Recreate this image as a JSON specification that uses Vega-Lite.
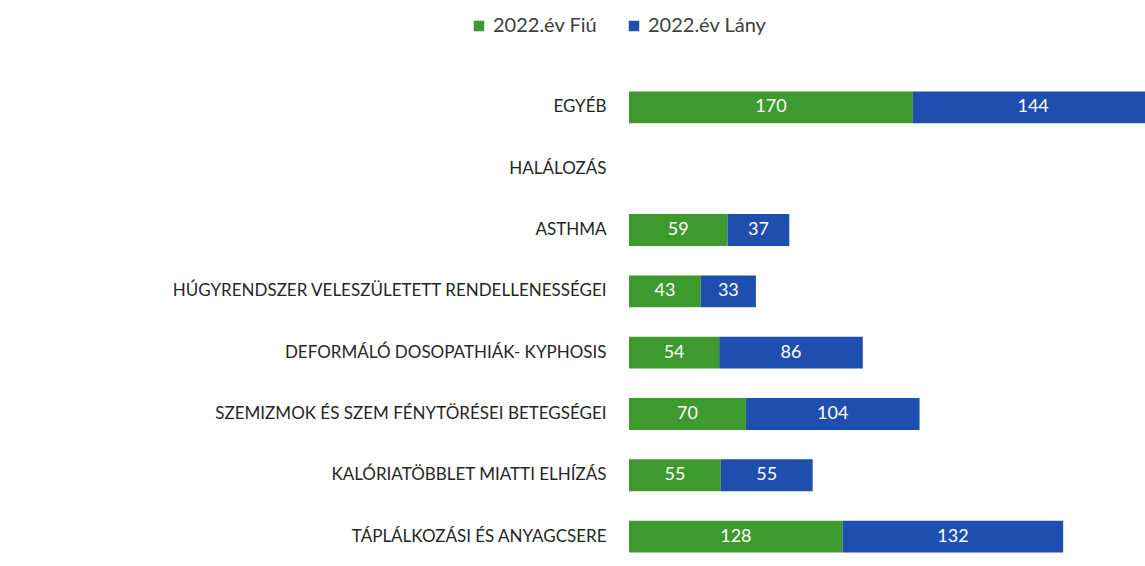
{
  "$schema": "https://vega.github.io/schema/vega-lite/v6.json",
  "width": 516,
  "height": 490,
  "autosize": {"type": "none"},
  "padding": {"left": 629, "top": 77, "right": 0, "bottom": 0},
  "background": "white",
  "config": {"view": {"stroke": null}, "font": "Lato"},
  "data": {
    "values": [
      {"cat": "EGYÉB", "nem": "2022.év Fiú", "o": 1, "v": 170},
      {"cat": "EGYÉB", "nem": "2022.év Lány", "o": 2, "v": 144},
      {"cat": "ASTHMA", "nem": "2022.év Fiú", "o": 1, "v": 59},
      {"cat": "ASTHMA", "nem": "2022.év Lány", "o": 2, "v": 37},
      {"cat": "HÚGYRENDSZER VELESZÜLETETT RENDELLENESSÉGEI", "nem": "2022.év Fiú", "o": 1, "v": 43},
      {"cat": "HÚGYRENDSZER VELESZÜLETETT RENDELLENESSÉGEI", "nem": "2022.év Lány", "o": 2, "v": 33},
      {"cat": "DEFORMÁLÓ DOSOPATHIÁK-  KYPHOSIS", "nem": "2022.év Fiú", "o": 1, "v": 54},
      {"cat": "DEFORMÁLÓ DOSOPATHIÁK-  KYPHOSIS", "nem": "2022.év Lány", "o": 2, "v": 86},
      {"cat": "SZEMIZMOK ÉS SZEM FÉNYTÖRÉSEI BETEGSÉGEI", "nem": "2022.év Fiú", "o": 1, "v": 70},
      {"cat": "SZEMIZMOK ÉS SZEM FÉNYTÖRÉSEI BETEGSÉGEI", "nem": "2022.év Lány", "o": 2, "v": 104},
      {"cat": "KALÓRIATÖBBLET MIATTI ELHÍZÁS", "nem": "2022.év Fiú", "o": 1, "v": 55},
      {"cat": "KALÓRIATÖBBLET MIATTI ELHÍZÁS", "nem": "2022.év Lány", "o": 2, "v": 55},
      {"cat": "TÁPLÁLKOZÁSI ÉS ANYAGCSERE", "nem": "2022.év Fiú", "o": 1, "v": 128},
      {"cat": "TÁPLÁLKOZÁSI ÉS ANYAGCSERE", "nem": "2022.év Lány", "o": 2, "v": 132}
    ]
  },
  "transform": [
    {"stack": "v", "groupby": ["cat"], "sort": [{"field": "o", "order": "ascending"}], "as": ["x0", "x1"]},
    {"calculate": "(datum.x0 + datum.x1) / 2", "as": "xm"}
  ],
  "encoding": {
    "y": {
      "field": "cat",
      "type": "nominal",
      "scale": {
        "domain": ["EGYÉB", "HALÁLOZÁS", "ASTHMA", "HÚGYRENDSZER VELESZÜLETETT RENDELLENESSÉGEI", "DEFORMÁLÓ DOSOPATHIÁK-  KYPHOSIS", "SZEMIZMOK ÉS SZEM FÉNYTÖRÉSEI BETEGSÉGEI", "KALÓRIATÖBBLET MIATTI ELHÍZÁS", "TÁPLÁLKOZÁSI ÉS ANYAGCSERE"],
        "paddingInner": 0.48,
        "paddingOuter": 0.235
      },
      "axis": {
        "title": null,
        "domain": false,
        "ticks": false,
        "labelPadding": 23,
        "labelFontSize": 17,
        "labelColor": "#262626",
        "labelFont": "Lato",
        "labelLimit": 700
      }
    }
  },
  "layer": [
    {
      "mark": {"type": "bar", "clip": true},
      "encoding": {
        "x": {"field": "x0", "type": "quantitative", "scale": {"domain": [0, 309], "nice": false}, "axis": null},
        "x2": {"field": "x1"},
        "color": {
          "field": "nem",
          "type": "nominal",
          "scale": {"domain": ["2022.év Fiú", "2022.év Lány"], "range": ["#3e9a2e", "#1f4fae"]},
          "legend": {
            "title": null,
            "orient": "none",
            "direction": "horizontal",
            "legendX": -160,
            "legendY": -61,
            "symbolType": "square",
            "symbolSize": 110,
            "symbolStrokeWidth": 0,
            "labelFontSize": 20,
            "labelColor": "#404040",
            "labelFont": "Lato",
            "columnPadding": 26,
            "labelOffset": 4
          }
        }
      }
    },
    {
      "mark": {"type": "text", "color": "white", "fontSize": 18, "font": "Lato", "align": "center", "baseline": "middle"},
      "encoding": {
        "x": {"field": "xm", "type": "quantitative"},
        "text": {"field": "v", "type": "quantitative"}
      }
    }
  ]
}
